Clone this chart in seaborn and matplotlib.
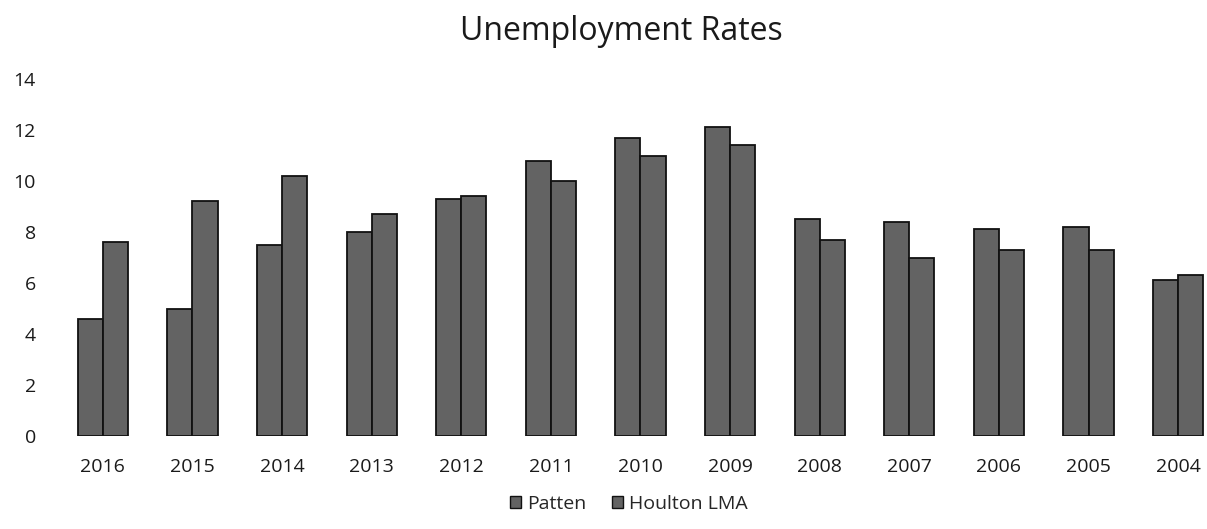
import matplotlib
matplotlib.use("Agg")
import matplotlib.pyplot as plt
import seaborn as sns
import pandas as pd
from matplotlib.patches import Patch

years = ["2016", "2015", "2014", "2013", "2012", "2011", "2010", "2009",
         "2008", "2007", "2006", "2005", "2004"]
patten = [4.6, 5.0, 7.5, 8.0, 9.3, 10.8, 11.7, 12.1, 8.5, 8.4, 8.1, 8.2, 6.1]
houlton = [7.6, 9.2, 10.2, 8.7, 9.4, 10.0, 11.0, 11.4, 7.7, 7.0, 7.3, 7.3, 6.3]
series_names = ["Patten", "Houlton LMA"]
y_ticks = [0, 2, 4, 6, 8, 10, 12, 14]

df = pd.DataFrame({
    "Year": years * 2,
    "Rate": patten + houlton,
    "Series": [series_names[0]] * len(years) + [series_names[1]] * len(years),
})

sns.set_theme(style="white")
plt.rcParams['font.family'] = ['Open Sans', 'DejaVu Sans']

fig = plt.figure(figsize=(12.07, 5.29), dpi=100)
ax = fig.add_axes([58 / 1207, (529 - 436) / 529, (1223 - 58) / 1207, 357 / 529])

bar_color = "#636363"
sns.barplot(data=df, x="Year", y="Rate", hue="Series", order=years,
            hue_order=series_names, palette=[bar_color, bar_color],
            width=0.56, dodge=True, ax=ax, edgecolor="#111111", linewidth=1.3,
            legend=False)

ax.set_ylim(0, 14)
ax.set_yticks(y_ticks)
ax.set_xlabel("")
ax.set_ylabel("")
for s in ax.spines.values():
    s.set_visible(False)
ax.tick_params(axis="both", length=0, labelsize=14, colors="#1a1a1a")
ax.tick_params(axis="y", pad=16)
ax.tick_params(axis="x", pad=16)

fig.suptitle("Unemployment Rates", x=0.515, y=0.972, fontsize=23, color="#1a1a1a")

handles = [Patch(facecolor=bar_color, edgecolor="#111111", label=n) for n in series_names]
fig.legend(handles=handles, loc="center", bbox_to_anchor=(0.521, 0.047), ncol=2,
           frameon=False, fontsize=14, handlelength=0.6, handleheight=0.6,
           handletextpad=0.3, columnspacing=1.3)

fig.savefig("out.png", dpi=100)
